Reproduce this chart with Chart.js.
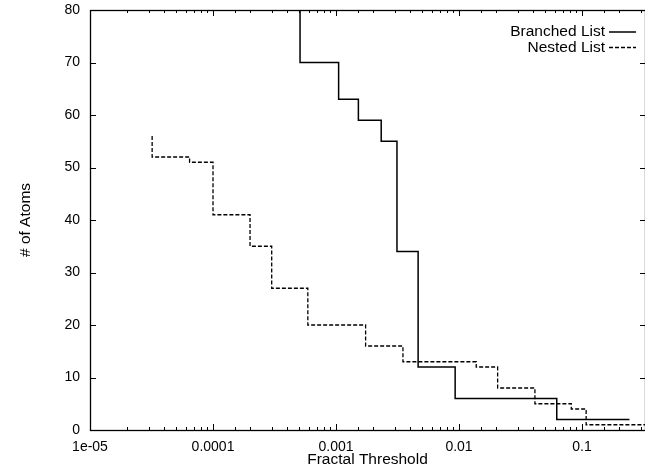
<!DOCTYPE html>
<html><head><meta charset="utf-8">
<script src="https://cdn.jsdelivr.net/npm/chart.js@4"></script>
<style>html,body{margin:0;padding:0;overflow:hidden;background:#fff;width:645px;height:469px}canvas{display:block}</style>
</head><body>
<canvas id="c" width="645" height="469"></canvas>
<script>
// Data (step plots: each value starts at the listed x)
const seriesLabels = ['Branched List', 'Nested List'];
const branchedX = [5.1e-4, 1.05e-3, 1.52e-3, 2.33e-3, 3.13e-3, 4.65e-3, 9.3e-3, 0.0623, 0.243];
const branchedY = [80, 70, 63, 59, 55, 34, 12, 6, 2];
const nestedX = [3.2e-5, 6.45e-5, 1.0e-4, 2.0e-4, 3.0e-4, 5.9e-4, 1.74e-3, 3.5e-3, 0.0138, 0.0206, 0.0414, 0.0818, 0.108, 0.35];
const nestedY = [56, 52, 51, 41, 35, 27, 20, 16, 13, 12, 8, 5, 4, 1];
const xTickExponents = [-5, -4, -3, -2, -1];
const xTickLabels = ['1e-05', '0.0001', '0.001', '0.01', '0.1'];
const yTicks = [0, 10, 20, 30, 40, 50, 60, 70, 80];
const xMin = 1e-5, xMax = 0.325, yMin = 0, yMax = 80;

const FONT = 'Liberation Sans, Arial, Helvetica, sans-serif';

function decadeExp(v) {
  const e = Math.round(Math.log10(v));
  return Math.abs(v / Math.pow(10, e) - 1) < 1e-6 ? e : null;
}

const framePlugin = {
  id: 'frame',
  afterDatasetsDraw(chart) {
    const ctx = chart.ctx, a = chart.chartArea;
    const xs = chart.scales.x, ys = chart.scales.y;
    ctx.save();
    ctx.strokeStyle = '#000';
    ctx.lineWidth = 1.3;
    ctx.strokeRect(Math.round(a.left) + 0.5, Math.round(a.top) + 0.5, Math.round(a.right - a.left), Math.round(a.bottom - a.top));
    ctx.lineWidth = 1;
    ctx.beginPath();
    xs.ticks.forEach(t => {
      if (t.value >= xMax * 0.999 || t.value <= xMin * 1.001) return;
      const px = Math.round(xs.getPixelForValue(t.value)) + 0.5;
      const len = decadeExp(t.value) !== null ? 6 : 3;
      ctx.moveTo(px, a.bottom); ctx.lineTo(px, a.bottom - len);
      ctx.moveTo(px, a.top); ctx.lineTo(px, a.top + len);
    });
    yTicks.forEach(v => {
      if (v === yMin || v === yMax) return;
      const py = Math.round(ys.getPixelForValue(v)) + 0.5;
      ctx.moveTo(a.left, py); ctx.lineTo(a.left + 6, py);
      ctx.moveTo(a.right, py); ctx.lineTo(a.right - 5, py);
    });
    ctx.stroke();
    // legend
    ctx.font = '15.5px ' + FONT;
    ctx.fillStyle = '#000';
    ctx.textAlign = 'right';
    ctx.textBaseline = 'middle';
    const legY = [32, 47.5];
    chart.data.datasets.forEach((ds, i) => {
      ctx.fillText(ds.label, 605, legY[i]);
      ctx.beginPath();
      ctx.setLineDash(ds.borderDash || []);
      ctx.lineWidth = ds.borderWidth;
      ctx.moveTo(609, legY[i]); ctx.lineTo(636, legY[i]);
      ctx.stroke();
    });
    ctx.restore();
  }
};

new Chart(document.getElementById('c'), {
  type: 'line',
  data: {
    datasets: [
      { label: seriesLabels[0], data: branchedX.map((x, i) => ({ x, y: branchedY[i] })),
        borderColor: '#000', borderWidth: 1.5, pointRadius: 0, stepped: 'after', fill: false },
      { label: seriesLabels[1], data: nestedX.map((x, i) => ({ x, y: nestedY[i] })),
        borderColor: '#000', borderWidth: 1.3, borderDash: [4, 2], pointRadius: 0, stepped: 'after', fill: false }
    ]
  },
  options: {
    responsive: false, animation: false, devicePixelRatio: 1,
    layout: { padding: { top: 10, right: 0, left: 0, bottom: 0 } },
    plugins: { legend: { display: false }, tooltip: { enabled: false } },
    scales: {
      x: {
        type: 'logarithmic', min: xMin, max: xMax,
        grid: { display: false, drawTicks: false }, border: { display: false },
        ticks: {
          autoSkip: false, maxRotation: 0, padding: 9, color: '#000',
          font: { family: FONT, size: 14 },
          callback: (v) => { const e = decadeExp(v); const k = xTickExponents.indexOf(e); return (e !== null && k >= 0) ? xTickLabels[k] : ''; }
        },
        title: { display: true, text: 'Fractal Threshold', color: '#000', font: { family: FONT, size: 15.5 }, padding: { top: 0, bottom: 0 } },
        afterFit: s => { s.height = 39; s.paddingLeft = 0; s.paddingRight = 0; }
      },
      y: {
        min: yMin, max: yMax,
        grid: { display: false, drawTicks: false }, border: { display: false },
        afterBuildTicks: s => { s.ticks = yTicks.map(v => ({ value: v })); },
        ticks: { padding: 10, color: '#000', font: { family: FONT, size: 14 } },
        title: { display: true, text: '# of Atoms', color: '#000', font: { family: FONT, size: 15.5 }, padding: { top: 16, bottom: 0 } },
        afterFit: s => { s.width = 90; s.paddingTop = 0; s.paddingBottom = 0; }
      }
    }
  },
  plugins: [framePlugin]
});
</script>
</body></html>
